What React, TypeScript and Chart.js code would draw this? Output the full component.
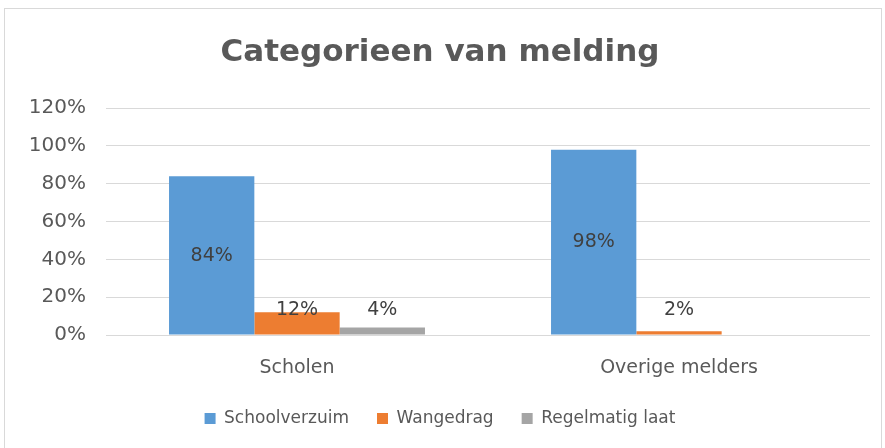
import React, { useEffect, useRef } from "react";
import { Chart, registerables } from "chart.js";

Chart.register(...registerables);

const categories = ["Scholen", "Overige melders"];
const seriesNames = ["Schoolverzuim", "Wangedrag", "Regelmatig laat"];
const schoolverzuim = [84, 98];
const wangedrag = [12, 2];
const regelmatigLaat = [4, 0];
const seriesColors = ["#5B9BD5", "#ED7D31", "#A5A5A5"];
const yTicks = [0, 20, 40, 60, 80, 100, 120];
const titleText = "Categorieen van melding";

const FONT = "'DejaVu Sans', sans-serif";
const LABEL_MIN = 13.3;

const dataLabelPlugin = {
  id: "dataLabels",
  afterDatasetsDraw(chart: any) {
    const ctx = chart.ctx;
    const yScale = chart.scales.y;
    ctx.save();
    ctx.font = `19px ${FONT}`;
    ctx.fillStyle = "#404040";
    ctx.textAlign = "center";
    ctx.textBaseline = "middle";
    chart.data.datasets.forEach((ds: any, di: number) => {
      const meta = chart.getDatasetMeta(di);
      meta.data.forEach((bar: any, i: number) => {
        const v = ds.data[i];
        if (!v) return;
        const y = yScale.getPixelForValue(Math.max(v / 2, LABEL_MIN));
        ctx.fillText(`${v}%`, bar.x, y);
      });
    });
    ctx.restore();
  },
};

export default function App() {
  const ref = useRef<HTMLCanvasElement | null>(null);
  useEffect(() => {
    if (!ref.current) return;
    const values = [schoolverzuim, wangedrag, regelmatigLaat];
    const chart = new Chart(ref.current, {
      type: "bar",
      data: {
        labels: categories,
        datasets: seriesNames.map((name, i) => ({
          label: name,
          data: values[i],
          backgroundColor: seriesColors[i],
          borderWidth: 0,
          categoryPercentage: 0.67,
          barPercentage: 1,
        })),
      },
      options: {
        animation: false,
        responsive: false,
        maintainAspectRatio: false,
        layout: { padding: { top: 8, left: 10, right: 15, bottom: 11 } },
        plugins: {
          title: {
            display: true,
            text: titleText,
            color: "#595959",
            font: { family: FONT, size: 31, weight: "bold" },
            padding: { top: 26, bottom: 37 },
          },
          legend: {
            position: "bottom",
            labels: {
              boxWidth: 11,
              boxHeight: 11,
              color: "#595959",
              font: { family: FONT, size: 17 },
              padding: 28,
            },
          },
          tooltip: { enabled: false },
        },
        scales: {
          x: {
            grid: { display: false },
            border: { display: false },
            ticks: {
              color: "#595959",
              font: { family: FONT, size: 19 },
              padding: 14,
            },
            afterFit(scale: any) {
              scale.height = 47;
            },
          },
          y: {
            min: 0,
            max: 120,
            afterBuildTicks(scale: any) {
              scale.ticks = yTicks.map((v) => ({ value: v }));
            },
            grid: { color: "#D9D9D9", lineWidth: 1, drawTicks: false },
            border: { display: false },
            ticks: {
              color: "#595959",
              font: { family: FONT, size: 20 },
              padding: 20,
              callback: (v: any) => `${v}%`,
            },
            afterFit(scale: any) {
              scale.width = 96;
            },
          },
        },
      },
      plugins: [dataLabelPlugin],
    });
    return () => chart.destroy();
  }, []);
  return (
    <div style={{ position: "fixed", left: 0, top: 0, width: 885, height: 448, background: "#fff" }}>
      <div
        style={{
          position: "absolute",
          left: 4,
          top: 8,
          width: 878,
          height: 460,
          border: "1px solid #D9D9D9",
          boxSizing: "border-box",
        }}
      />
      <canvas ref={ref} width={885} height={448} style={{ position: "absolute", left: 0, top: 0 }} />
    </div>
  );
}
